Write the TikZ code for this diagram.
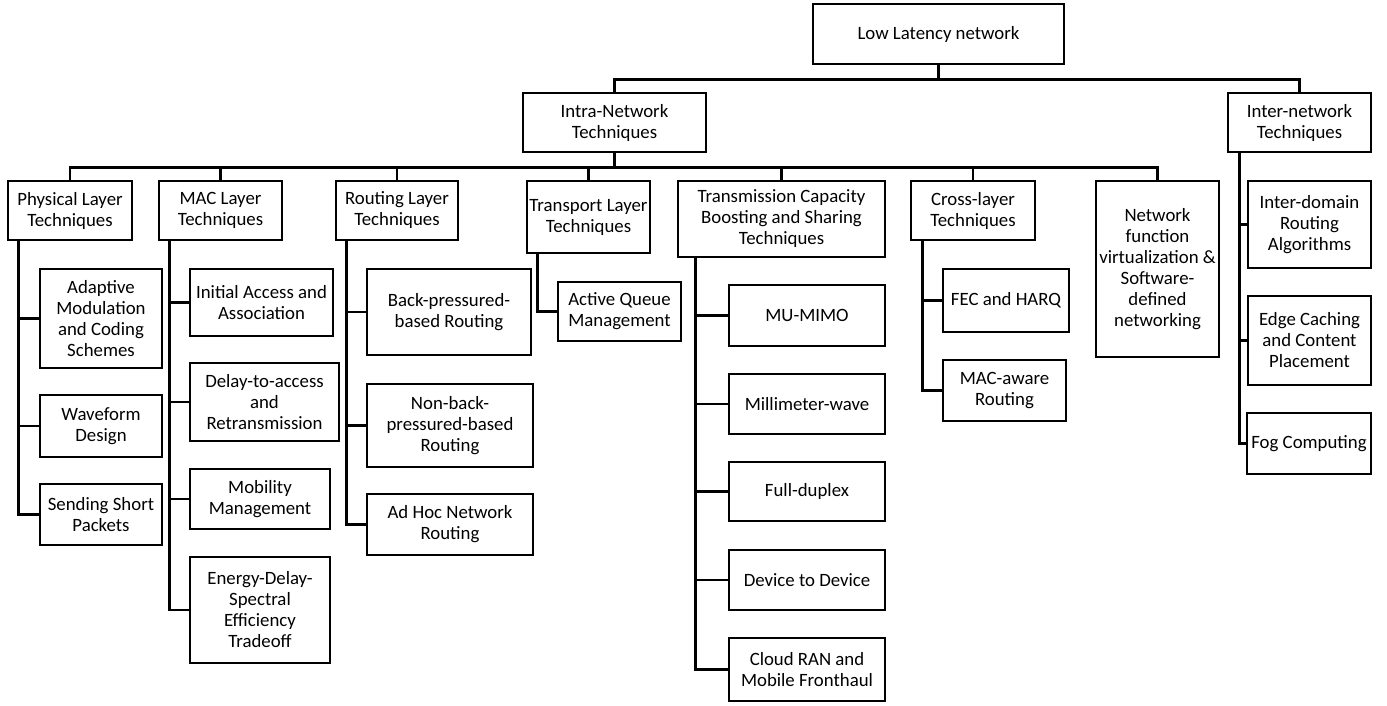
\documentclass[tikz,border=0pt]{standalone}
\usepackage{fontspec}
\setmainfont{Carlito}
\usetikzlibrary{positioning}
\tikzset{block/.style={draw, line width=2.7pt, align=center, inner sep=0pt, font=\fontsize{18.8}{21}\selectfont}}

\begin{document}
\begin{tikzpicture}[x=1pt, y=-1pt, line width=2.7pt]
		\useasboundingbox (0,0) rectangle (1387,705);
		\node (root)[block, minimum width=251, minimum height=60] at (938.5,34){Low Latency network};
		\node (intra)[block, minimum width=183, minimum height=59] at (614.5,122.5){Intra-Network\\Techniques};
		\node (inter)[block, minimum width=143, minimum height=59] at (1299.5,122.5){Inter-network\\Techniques};
		\draw (root.south) -- ++(0,14) coordinate (rootbus);
		\draw (intra.north) |- (rootbus) -| (inter.north);
		%
		\node (phy)[block, minimum width=124, minimum height=59] at (70,210.5){Physical Layer\\Techniques};
		\node (mac)[block, minimum width=123, minimum height=59] at (220.5,210.5){MAC Layer\\Techniques};
		\node (rout)[block, minimum width=122, minimum height=59] at (397,210.5){Routing Layer\\Techniques};
		\node (transp)[block, minimum width=123, minimum height=72] at (588.5,217){Transport Layer\\Techniques};
		\node (tcap)[block, minimum width=207, minimum height=76] at (781.5,219){Transmission Capacity\\Boosting and Sharing\\Techniques};
		\node (cross)[block, minimum width=124, minimum height=59] at (973,210.5){Cross-layer\\Techniques};
		\node (nfv)[block, minimum width=123, minimum height=176] at (1157.5,269){Network\\function\\virtualization \&\\Software-\\defined\\networking};
		\draw (intra.south) -- ++(0,14) coordinate (intrabus);
		\draw (intrabus) -| (phy.north);
		\draw (intrabus) -| (mac.north);
		\draw (intrabus) -| (rout.north);
		\draw (intrabus) -| (transp.north);
		\draw (intrabus) -| (tcap.north);
		\draw (intrabus) -| (cross.north);
		\draw (intrabus) -| (nfv.north);
		%
		\node (amc)[block, minimum width=122, minimum height=99] at (101,318.5){Adaptive\\Modulation\\and Coding\\Schemes};
		\node (wave)[block, minimum width=122, minimum height=62] at (101,426){Waveform\\Design};
		\node (ssp)[block, minimum width=122, minimum height=61] at (101,514.5){Sending Short\\Packets};
		\draw ([xshift=12]phy.south west) |- (amc.west);
		\draw ([xshift=12]phy.south west) |- (wave.west);
		\draw ([xshift=12]phy.south west) |- (ssp.west);
		%
		\node (iaa)[block, minimum width=143, minimum height=67] at (261.5,302.5){Initial Access and\\Association};
		\node (dta)[block, minimum width=149, minimum height=78] at (264.5,402){Delay-to-access\\and\\Retransmission};
		\node (mob)[block, minimum width=140, minimum height=60] at (260,499){Mobility\\Management};
		\node (edse)[block, minimum width=140, minimum height=106] at (260,610){Energy-Delay-\\Spectral\\Efficiency\\Tradeoff};
		\draw ([xshift=12]mac.south west) |- (iaa.west);
		\draw ([xshift=12]mac.south west) |- (dta.west);
		\draw ([xshift=12]mac.south west) |- (mob.west);
		\draw ([xshift=12]mac.south west) |- (edse.west);
		%
		\node (bpr)[block, minimum width=164, minimum height=86] at (449,312){Back-pressured-\\based Routing};
		\node (nbpr)[block, minimum width=166, minimum height=83] at (450,425.5){Non-back-\\pressured-based\\Routing};
		\node (adhoc)[block, minimum width=166, minimum height=61] at (450,524.5){Ad Hoc Network\\Routing};
		\draw ([xshift=12]rout.south west) |- (bpr.west);
		\draw ([xshift=12]rout.south west) |- (nbpr.west);
		\draw ([xshift=12]rout.south west) |- (adhoc.west);
		%
		\node (aqm)[block, minimum width=123, minimum height=59] at (619.5,311.5){Active Queue\\Management};
		\draw ([xshift=12]transp.south west) |- (aqm.west);
		%
		\node (mimo)[block, minimum width=156, minimum height=61] at (807,315.5){MU-MIMO};
		\node (mmw)[block, minimum width=156, minimum height=60] at (807,404){Millimeter-wave};
		\node (fdx)[block, minimum width=156, minimum height=59] at (807,491.5){Full-duplex};
		\node (d2d)[block, minimum width=156, minimum height=60] at (807,580){Device to Device};
		\node (cran)[block, minimum width=156, minimum height=63] at (807,669.5){Cloud RAN and\\Mobile Fronthaul};
		\draw ([xshift=19]tcap.south west) |- (mimo.west);
		\draw ([xshift=19]tcap.south west) |- (mmw.west);
		\draw ([xshift=19]tcap.south west) |- (fdx.west);
		\draw ([xshift=19]tcap.south west) |- (d2d.west);
		\draw ([xshift=19]tcap.south west) |- (cran.west);
		%
		\node (fec)[block, minimum width=126, minimum height=63] at (1006,300.5){FEC and HARQ};
		\node (macr)[block, minimum width=123, minimum height=61] at (1004.5,390.5){MAC-aware\\Routing};
		\draw ([xshift=13]cross.south west) |- (fec.west);
		\draw ([xshift=13]cross.south west) |- (macr.west);
		%
		\node (idr)[block, minimum width=123, minimum height=87] at (1309.5,224.5){Inter-domain\\Routing\\Algorithms};
		\node (edge)[block, minimum width=123, minimum height=89] at (1309.5,340.5){Edge Caching\\and Content\\Placement};
		\node (fog)[block, minimum width=124, minimum height=61] at (1309,443.5){Fog Computing};
		\draw ([xshift=13]inter.south west) |- (idr.west);
		\draw ([xshift=13]inter.south west) |- (edge.west);
		\draw ([xshift=13]inter.south west) |- (fog.west);
	\end{tikzpicture}
\end{document}
